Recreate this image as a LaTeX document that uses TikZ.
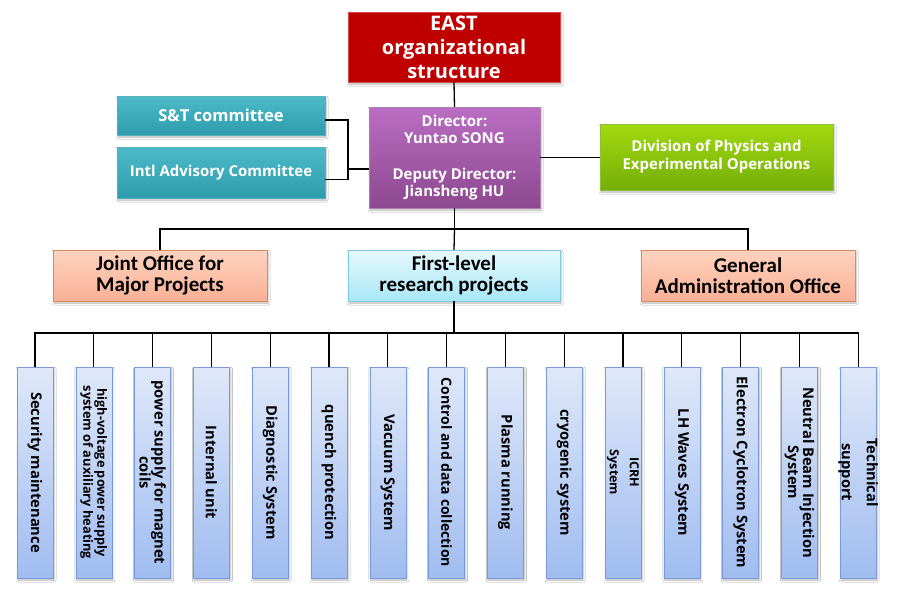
\documentclass[tikz,border=0pt]{standalone}
\usepackage{fontspec}
\setmainfont{Open Sans}
\newfontfamily\carl{Carlito}
\usetikzlibrary{shadows.blur}
\definecolor{eastred}{HTML}{C00000}
\definecolor{tealT}{HTML}{4DBAC8}
\definecolor{tealB}{HTML}{2F9CAD}
\definecolor{purT}{HTML}{BA6EC2}
\definecolor{purB}{HTML}{8C4890}
\definecolor{grnT}{HTML}{A2D90F}
\definecolor{grnB}{HTML}{74AE08}
\definecolor{salT}{HTML}{FFD3C0}
\definecolor{salB}{HTML}{F9B094}
\definecolor{salD}{HTML}{D98A60}
\definecolor{cyT}{HTML}{E6F9FD}
\definecolor{cyB}{HTML}{A8E7F6}
\definecolor{cyD}{HTML}{7FCBDD}
\definecolor{blT}{HTML}{DFE8F9}
\definecolor{blB}{HTML}{A0BCF0}
\definecolor{blD}{HTML}{7A9AD8}
\tikzset{
  base/.style={draw, inner sep=0pt, align=center,
    blur shadow={shadow xshift=1pt, shadow yshift=-2pt, shadow blur radius=2pt, shadow opacity=30}},
  redbox/.style={base, fill=eastred, draw=eastred!70!white, text=white,
    font=\bfseries\fontsize{20}{24}\selectfont},
  tealbox/.style={base, top color=tealT, bottom color=tealB, draw=tealB!80!white, text=white,
    font=\bfseries\fontsize{15}{17}\selectfont},
  purbox/.style={base, top color=purT, bottom color=purB, draw=purB!70!white, text=white,
    font=\bfseries\fontsize{15}{17.5}\selectfont},
  grnbox/.style={base, top color=grnT, bottom color=grnB, draw=grnB!80!white, text=white,
    font=\bfseries\fontsize{15}{18}\selectfont},
  salbox/.style={base, top color=salT, bottom color=salB, draw=salD, text=black,
    font=\carl\bfseries\fontsize{21}{21}\selectfont},
  cybox/.style={base, top color=cyT, bottom color=cyB, draw=cyD, text=black,
    font=\carl\bfseries\fontsize{21}{21}\selectfont},
  sysbox/.style={base, top color=blT, bottom color=blB, draw=blD,
    minimum width=36pt, minimum height=211pt},
  vlab/.style={rotate=-90, inner sep=0pt, align=center, text=black,
    font=\bfseries\fontsize{14.7}{15}\selectfont},
  conn/.style={draw=black, line width=1.3pt}
}
\begin{document}
\begin{tikzpicture}[x=1pt, y=-1pt]
\useasboundingbox (0,0) rectangle (900,597);
\fill[white] (0,0) rectangle (900,597);

\node[redbox, minimum width=212pt, minimum height=70pt] (east) at (454,47) {EAST\\organizational\\structure};
\node[tealbox, minimum width=208pt, minimum height=39pt, font=\bfseries\fontsize{16.5}{19}\selectfont] (st) at (221,115.5) {S\&T committee};
\node[tealbox, minimum width=208pt, minimum height=51pt] (intl) at (221,172.5) {Intl Advisory Committee};
\node[purbox, minimum width=171pt, minimum height=101pt] (dir) at (454.5,157.5) {Director:\\Yuntao SONG\\[18pt]Deputy Director:\\Jiansheng HU};
\node[grnbox, minimum width=233pt, minimum height=66pt] (div) at (716.5,157) {Division of Physics and\\Experimental Operations};

\node[salbox, minimum width=214pt, minimum height=51pt] (jo) at (160,275.5) {Joint Office for\\Major Projects};
\node[cybox, minimum width=212pt, minimum height=51pt] (fl) at (454,275.5) {First-level\\research projects};
\node[salbox, minimum width=214pt, minimum height=51pt] (ga) at (748,275.5) {General\\Administration Office};

\foreach \i in {1,...,15} {
  \node[sysbox] (s\i) at ({35+58.8*(\i-1)},472.5) {};
}
\node[vlab] (t1) at (s1) {Security maintenance};
\node[vlab, font=\bfseries\fontsize{12.8}{14}\selectfont] (t2) at (s2) {high-voltage power supply\\system of auxiliary heating};
\node[vlab] (t3) at (s3) {power supply for magnet\\coils};
\node[vlab] (t4) at (s4) {Internal unit};
\node[vlab] (t5) at (s5) {Diagnostic System};
\node[vlab] (t6) at (s6) {quench protection};
\node[vlab] (t7) at (s7) {Vacuum System};
\node[vlab, font=\bfseries\fontsize{14}{15}\selectfont] (t8) at (s8) {Control and data collection};
\node[vlab] (t9) at (s9) {Plasma running};
\node[vlab] (t10) at (s10) {cryogenic system};
\node[vlab, font=\bfseries\fontsize{12.5}{20}\selectfont] (t11) at (s11) {ICRH\\System};
\node[vlab] (t12) at (s12) {LH Waves System};
\node[vlab] (t13) at (s13) {Electron Cyclotron System};
\node[vlab] (t14) at (s14) {Neutral Beam Injection\\System};
\node[vlab, font=\bfseries\fontsize{14.7}{25}\selectfont] (t15) at (s15) {Technical\\support};

\coordinate (cj) at (348,169);
\coordinate (b1) at (454.5,229);
\coordinate (b2) at (454,333);

\draw[conn] (east.south) -- (dir.north);
\draw[conn] ([yshift=-4.5pt]st.east) -| (cj);
\draw[conn] ([yshift=-7pt]intl.east) -| (cj);
\draw[conn] (cj) -- (dir.west |- cj);
\draw[conn] (dir.east) -- (div.west |- dir.east);
\draw[conn] (dir.south) -- (b1);
\draw[conn] (jo.north) |- (b1) -| (ga.north);
\draw[conn] (b1) -- (fl.north);
\draw[conn] (fl.south) -- (b2);
\draw[conn] (s1.north) |- (b2) -| (s15.north);
\foreach \i in {2,...,14} {
  \draw[conn] (s\i.north) -- (s\i.north |- b2);
}
\end{tikzpicture}
\end{document}
